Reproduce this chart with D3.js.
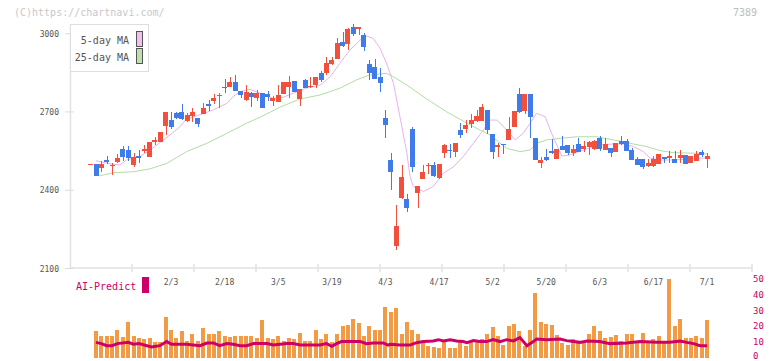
<!DOCTYPE html>
<html><head><meta charset="utf-8">
<script src="https://cdn.jsdelivr.net/npm/d3@7/dist/d3.min.js"></script>
<style>body{margin:0;background:#fff}svg{display:block}text{font-family:"DejaVu Sans Mono",monospace}</style>
</head><body><svg id="c" width="772" height="361"></svg>
<script>
// candle index -1 .. 114 (index 0 = first volume day)
const candleIdx = d3.range(-1, 115);
const opens  = [2500,2500,2487,2517,2495,2510,2557,2554,2497,2531,2551,2526,2585,2586,2648,2669,2695,2700,2667,2686,2676,2693,2729,2743,2764,2797,2795,2815,2780,2746,2774,2755,2774,2769,2743,2739,2770,2797,2819,2750,2823,2796,2803,2851,2851,2883,2903,2968,2961,3027,3018,2995,2885,2874,2835,2675,2516,2187,2372,2365,2635,2391,2443,2492,2497,2446,2544,2554,2547,2631,2635,2654,2666,2667,2708,2616,2565,2577,2593,2644,2769,2705,2769,2599,2506,2528,2549,2520,2570,2574,2544,2577,2558,2567,2558,2599,2554,2561,2548,2589,2589,2554,2520,2519,2493,2493,2501,2526,2523,2520,2525,2535,2503,2513,2548,2521];
const highs  = [2501,2502,2512,2531,2506,2539,2570,2570,2542,2554,2572,2585,2605,2623,2700,2701,2701,2731,2697,2714,2676,2733,2744,2769,2772,2825,2833,2842,2780,2803,2778,2784,2774,2780,2761,2803,2815,2838,2819,2788,2826,2834,2834,2858,2912,2912,2982,3006,3021,3037,3027,3001,2899,2903,2867,2708,2542,2344,2497,2386,2641,2416,2497,2506,2507,2501,2577,2577,2581,2659,2669,2691,2708,2732,2708,2616,2580,2577,2682,2704,2791,2769,2769,2599,2529,2558,2595,2558,2608,2574,2574,2600,2587,2589,2593,2608,2599,2561,2580,2606,2595,2561,2529,2519,2519,2533,2539,2526,2552,2552,2554,2535,2531,2552,2554,2542];
const lows   = [2499,2455,2471,2500,2459,2503,2513,2513,2488,2506,2542,2526,2574,2586,2612,2635,2674,2669,2661,2663,2641,2693,2705,2729,2714,2772,2795,2782,2752,2742,2720,2743,2716,2742,2723,2739,2770,2755,2778,2724,2791,2793,2791,2816,2842,2880,2903,2950,2938,2991,2995,2934,2823,2826,2778,2602,2401,2171,2367,2318,2471,2331,2443,2461,2450,2444,2525,2523,2529,2602,2621,2640,2663,2667,2616,2519,2529,2538,2593,2641,2695,2691,2602,2516,2484,2512,2538,2520,2554,2535,2531,2548,2548,2535,2554,2552,2554,2529,2548,2574,2552,2516,2497,2482,2488,2488,2500,2506,2506,2506,2506,2500,2503,2513,2526,2487];
const closes = [2500,2455,2502,2510,2497,2525,2529,2525,2526,2525,2558,2585,2591,2623,2700,2644,2678,2672,2689,2700,2655,2715,2723,2754,2766,2791,2815,2782,2766,2777,2756,2774,2716,2759,2755,2765,2815,2815,2778,2788,2793,2800,2834,2823,2889,2899,2966,2953,3018,2999,3027,2950,2851,2826,2812,2650,2471,2263,2452,2333,2490,2416,2470,2498,2456,2501,2574,2549,2581,2612,2650,2669,2685,2720,2631,2548,2574,2572,2635,2704,2699,2769,2682,2516,2516,2517,2542,2558,2554,2542,2558,2548,2570,2584,2589,2558,2577,2544,2580,2576,2552,2516,2497,2490,2503,2520,2539,2520,2533,2506,2535,2500,2531,2538,2535,2531];

// volume, index 0 .. 114
const volumes = [17,14,14,14,18,13,23,14,12.5,12,12.5,10,10,26,18,12.5,17,11,15,11,19,15.5,15,17,14,13,14,14,14,14,12.5,24,12.5,12,14,11,12.5,12,16,11,10.5,17.5,12,15,10,15.5,20,20.7,24.5,22,14,20,17.5,17.5,32,29,31.5,15.5,22.6,17.5,15.5,9.4,7.5,7,6.5,10.5,6.5,6.5,10.5,7.5,10,11,12,15.5,19.4,14,8,20,21.3,17,7.5,17.5,41,23,21.3,20.7,14.4,9.4,8,12,11,11,15.5,20,17,12.5,13,14.4,11,15,15,11,16,11,12,14,11,49.8,20,25,12.5,12.5,14,12.5,24];

// moving averages: [candle index, price]
const ma5Idx = [0,2.6,4.5,5.7,8.2,10.1,11.9,13.8,15.7,16.9,19.4,21.9,24.4,25.6,26.9,28.7,30.6,33.1,34.9,36.8,39.3,41.8,43.7,45.5,47.4,49.3,50.5,51.7,53,54.2,55.5,56.7,58,58.6,59.2,61.1,62.9,64.8,66.7,68.5,70.4,72.3,73.5,74.8,76.6,78.2,79.7,81,82.2,83.8,85,86.9,88.4,90.9,94,96.5,98.4,100.3,102.1,103.4,105.2,107.7,110.2,112.7,114];
const ma5Val = [2513,2501,2497,2516,2529,2554,2582,2612,2644,2673,2689,2708,2733,2759,2778,2787,2772,2752,2756,2772,2791,2803,2835,2887,2938,2976,2991,2982,2944,2887,2810,2682,2542,2452,2414,2395,2414,2465,2490,2529,2580,2631,2669,2669,2631,2593,2618,2657,2695,2682,2618,2531,2535,2554,2574,2577,2577,2567,2548,2523,2516,2516,2519,2523,2523];
const ma25Idx = [0.6,3.2,7,10.1,13.2,16.9,20.7,24.4,28.1,30.6,34.3,38.1,41.8,45.5,48.6,51.1,54.2,55.5,58,61.7,65.4,69.8,73.5,76.6,79.1,81,82.2,84.1,86.6,89.7,93.4,96.5,99.6,102.8,105.2,107.7,111.4,114];
const ma25Val = [2455,2467,2471,2482,2503,2548,2580,2618,2657,2680,2718,2750,2765,2791,2823,2842,2848,2835,2803,2750,2701,2650,2612,2561,2548,2554,2580,2593,2599,2605,2605,2593,2580,2567,2552,2544,2542,2539];

// AI-Predict line: [index, value]
const aiIdx = [0,1,2,3,4,6,7,8,9.5,10.4,11.9,13.2,14.1,16.9,19.4,20.7,21.9,23.1,24.4,25.6,26.9,28.1,29.4,31.9,33.1,35.6,36.8,38.1,41.8,43,44,44.9,45.8,49.3,50.5,51.7,53.6,54.5,54.9,56.7,58.6,59.8,61.1,62.9,63.9,64.8,66.1,67.3,68.5,69.2,70.4,71.6,72.9,74.1,75.4,76.6,77.9,79.1,80.4,81.6,82.2,84.1,86.6,87.8,89.1,90.3,91.6,94,95.9,99,101.5,104.6,107.1,109,110.2,111.5,112.7,114];
const aiVal = [9.9,9.1,7.8,7.8,9.1,9.9,8.7,9.1,7.8,7,7.8,10.4,8.7,8.7,7.8,9.5,9.5,7.8,9.1,8.7,7.8,7.8,9.1,9.1,8.2,9.1,9.1,8.2,8.2,9.1,7.4,9.1,10.4,10.4,9.1,9.5,9.5,8.2,8.7,8.2,8.2,9.7,10.4,10.8,11.6,10.8,11.6,10.8,10.4,9.7,11,10.4,10.4,11.6,10.4,11.6,10.8,12.9,7.8,10.4,12,11.6,12,11,10.4,9.9,10.8,10.4,9.1,9.5,10.4,9.9,9.9,10.8,9.9,9.1,7.8,7.8];

const tickLabels = ["2/3","2/18","3/5","3/19","4/3","4/17","5/2","5/20","6/3","6/17","7/1"];
const tickIdx = [14,24,34,44,54,64,74,84,94,104,114];
const priceTicks = [2100,2400,2700,3000];
const volTicks = [0,10,20,30,40,50];

const RED = "#f0503c", BLUE = "#3f7be9", ORANGE = "#f39a45", MAG = "#cc0066";

const svg = d3.select("#c");
const plotL = 70, plotR = 752;
const x = d3.scaleLinear().domain([0,114]).range([96,707]);
const y = d3.scaleLinear().domain([2100,3000]).range([268.5,33.7]);
const yv = d3.scaleLinear().domain([0,50]).range([358,279]);
const frame = d3.scaleLinear().domain([0,11]).range([plotL, plotR]);

// watermark
svg.append("text").attr("x",14).attr("y",16).attr("font-size",10).attr("fill","#c8c8c8").text("(C)https://chartnavi.com/");
svg.append("text").attr("x",757).attr("y",16).attr("text-anchor","end").attr("font-size",10).attr("fill","#bdbdbd").text("7389");

// axes frame
svg.append("line").attr("x1",plotL+0.5).attr("x2",plotL+0.5).attr("y1",24).attr("y2",268).attr("stroke","#e2e2e2").attr("stroke-width",1.5);
svg.append("line").attr("x1",plotL).attr("x2",plotR).attr("y1",268).attr("y2",268).attr("stroke","#e2e2e2").attr("stroke-width",1.5);
svg.selectAll(".ft").data(d3.range(1,12)).join("line")
  .attr("x1",d=>frame(d)).attr("x2",d=>frame(d)).attr("y1",264).attr("y2",272).attr("stroke","#e2e2e2").attr("stroke-width",1.5);

// price axis
svg.selectAll(".pt").data(priceTicks).join("line")
  .attr("x1",65).attr("x2",74).attr("y1",d=>y(d)).attr("y2",d=>y(d)).attr("stroke","#dcdcdc");
svg.selectAll(".pl").data(priceTicks).join("text")
  .attr("x",59).attr("y",d=>y(d)+3).attr("text-anchor","end").attr("font-size",8).attr("fill","#555").text(d=>d);

// date labels
svg.selectAll(".dl").data(tickLabels).join("text")
  .attr("x",(d,i)=>x(tickIdx[i])).attr("y",285).attr("text-anchor","middle").attr("font-size",8).attr("fill","#555").text(d=>d);

// MA lines
const pline = d3.line();
svg.append("path").attr("d",pline(ma25Idx.map((d,i)=>[x(d),y(ma25Val[i])]))).attr("fill","none").attr("stroke","#b3dca6").attr("stroke-width",1);
svg.append("path").attr("d",pline(ma5Idx.map((d,i)=>[x(d),y(ma5Val[i])]))).attr("fill","none").attr("stroke","#eab3ec").attr("stroke-width",1);

// candles
const cw = 5;
const cg = svg.append("g").attr("shape-rendering","crispEdges");
candleIdx.forEach((ci,k)=>{
  const o=opens[k], c=closes[k], h=highs[k], l=lows[k];
  const col = c>=o ? RED : BLUE;
  const cx = x(ci);
  cg.append("rect").attr("x",Math.round(cx)-0.5).attr("width",1.2).attr("y",y(h)).attr("height",Math.max(1,y(l)-y(h))).attr("fill",col);
  const top = y(Math.max(o,c)), bot = y(Math.min(o,c));
  cg.append("rect").attr("x",cx-cw/2).attr("width",cw).attr("y",top).attr("height",Math.max(1,bot-top)).attr("fill",col);
});

// legend
const lg = svg.append("g");
lg.append("rect").attr("x",70.5).attr("y",24.5).attr("width",78).attr("height",47).attr("fill","#fff").attr("stroke","#dedede");
lg.append("text").attr("x",129).attr("y",44).attr("text-anchor","end").attr("font-size",10).attr("fill","#555").text("5-day MA");
lg.append("text").attr("x",129).attr("y",61).attr("text-anchor","end").attr("font-size",10).attr("fill","#555").text("25-day MA");
lg.append("rect").attr("x",136.5).attr("y",31.5).attr("width",6).attr("height",15).attr("fill","#f0c0f0").attr("stroke","#555");
lg.append("rect").attr("x",136.5).attr("y",48.5).attr("width",6).attr("height",15).attr("fill","#bde0b0").attr("stroke","#555");

// volume
svg.append("g").attr("shape-rendering","crispEdges").selectAll("rect").data(volumes).join("rect")
  .attr("x",(d,i)=>x(i)-2).attr("width",4).attr("y",d=>yv(d)).attr("height",d=>yv(0)-yv(d)).attr("fill",ORANGE);
svg.append("path").attr("d",pline(aiIdx.map((d,i)=>[x(d),yv(aiVal[i])]))).attr("fill","none").attr("stroke",MAG).attr("stroke-width",3);

svg.selectAll(".vl").data(volTicks).join("text")
  .attr("x",753).attr("y",d=>Math.min(yv(d)+3,359)).attr("font-size",9).attr("fill",MAG).text(d=>d);

// AI-Predict label
svg.append("text").attr("x",76).attr("y",290).attr("font-size",10).attr("fill",MAG).text("AI-Predict");
svg.append("rect").attr("x",142).attr("y",277).attr("width",7).attr("height",16).attr("fill",MAG);
</script></body></html>
